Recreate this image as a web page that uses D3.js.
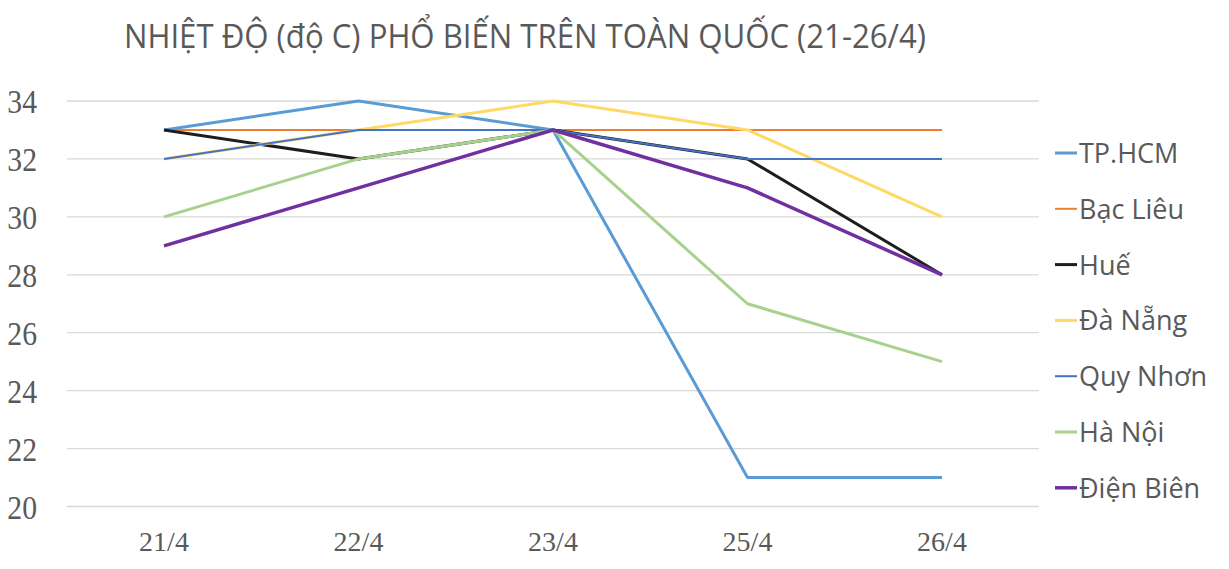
<!DOCTYPE html>
<html><head><meta charset="utf-8">
<script src="https://cdn.jsdelivr.net/npm/d3@7"></script>
<style>body{margin:0;background:#fff}</style>
</head><body>
<svg id="c" width="1229" height="569"></svg>
<script>
const categories = ["21/4","22/4","23/4","25/4","26/4"];
const seriesNames = ["TP.HCM","Bạc Liêu","Huế","Đà Nẵng","Quy Nhơn","Hà Nội","Điện Biên"];
const tpHcm    = [33,34,33,21,21];
const bacLieu  = [33,33,33,33,33];
const hue      = [33,32,33,32,28];
const daNang   = [32,33,34,33,30];
const quyNhon  = [32,33,33,32,32];
const haNoi    = [30,32,33,27,25];
const dienBien = [29,31,33,31,28];
const yTicks = [20,22,24,26,28,30,32,34];
const title = "NHIỆT ĐỘ (độ C) PHỔ BIẾN TRÊN TOÀN QUỐC (21-26/4)";

const seriesValues = [tpHcm,bacLieu,hue,daNang,quyNhon,haNoi,dienBien];
const colors = ["#5B9BD5","#ED7D31","#1E1E1E","#FFD966","#4472C4","#A9D18E","#7030A0"];
const widths = [3,2,3,3,2,3,3.5];

const svg = d3.select("#c");
const x = d3.scalePoint().domain(categories).range([164,942]);
const y = d3.scaleLinear().domain([20,34]).range([506.5,101]);

// gridlines
svg.append("g").selectAll("line").data(yTicks).join("line")
  .attr("x1",67).attr("x2",1039)
  .attr("y1",d=>y(d)).attr("y2",d=>y(d))
  .attr("stroke","#D9D9D9").attr("stroke-width",1.3);

// y labels
svg.append("g").selectAll("text").data(yTicks).join("text")
  .attr("transform",d=>`translate(37,${y(d)+12}) scale(0.9,1)`)
  .attr("text-anchor","end")
  .attr("font-family","'Liberation Serif', serif").attr("font-size",33)
  .attr("fill","#595959").text(d=>d);

// x labels
svg.append("g").selectAll("text").data(categories).join("text")
  .attr("x",d=>x(d)).attr("y",551)
  .attr("text-anchor","middle")
  .attr("font-family","'Liberation Serif', serif").attr("font-size",28)
  .attr("fill","#595959").text(d=>d);

// lines
const line = d3.line().x((d,i)=>x(categories[i])).y(d=>y(d));
svg.append("g").selectAll("path").data(seriesValues).join("path")
  .attr("d",d=>line(d)).attr("fill","none")
  .attr("stroke",(d,i)=>colors[i]).attr("stroke-width",(d,i)=>widths[i])
  .attr("stroke-linejoin","round");

// title
svg.append("text").attr("x",124).attr("y",47.5)
  .attr("font-family","'Open Sans', sans-serif").attr("font-size",32)
  .attr("fill","#595959").attr("textLength",802).attr("lengthAdjust","spacingAndGlyphs")
  .text(title);

// legend
const lg = svg.append("g").selectAll("g").data(seriesNames).join("g")
  .attr("transform",(d,i)=>`translate(0,${153+i*55.8})`);
lg.append("line").attr("x1",1055).attr("x2",1077).attr("y1",0).attr("y2",0)
  .attr("stroke",(d,i)=>colors[i]).attr("stroke-width",(d,i)=>widths[i]);
lg.append("text").attr("x",1079).attr("y",10)
  .attr("font-family","'Open Sans', sans-serif").attr("font-size",27)
  .attr("fill","#595959").text(d=>d);
</script>
</body></html>
